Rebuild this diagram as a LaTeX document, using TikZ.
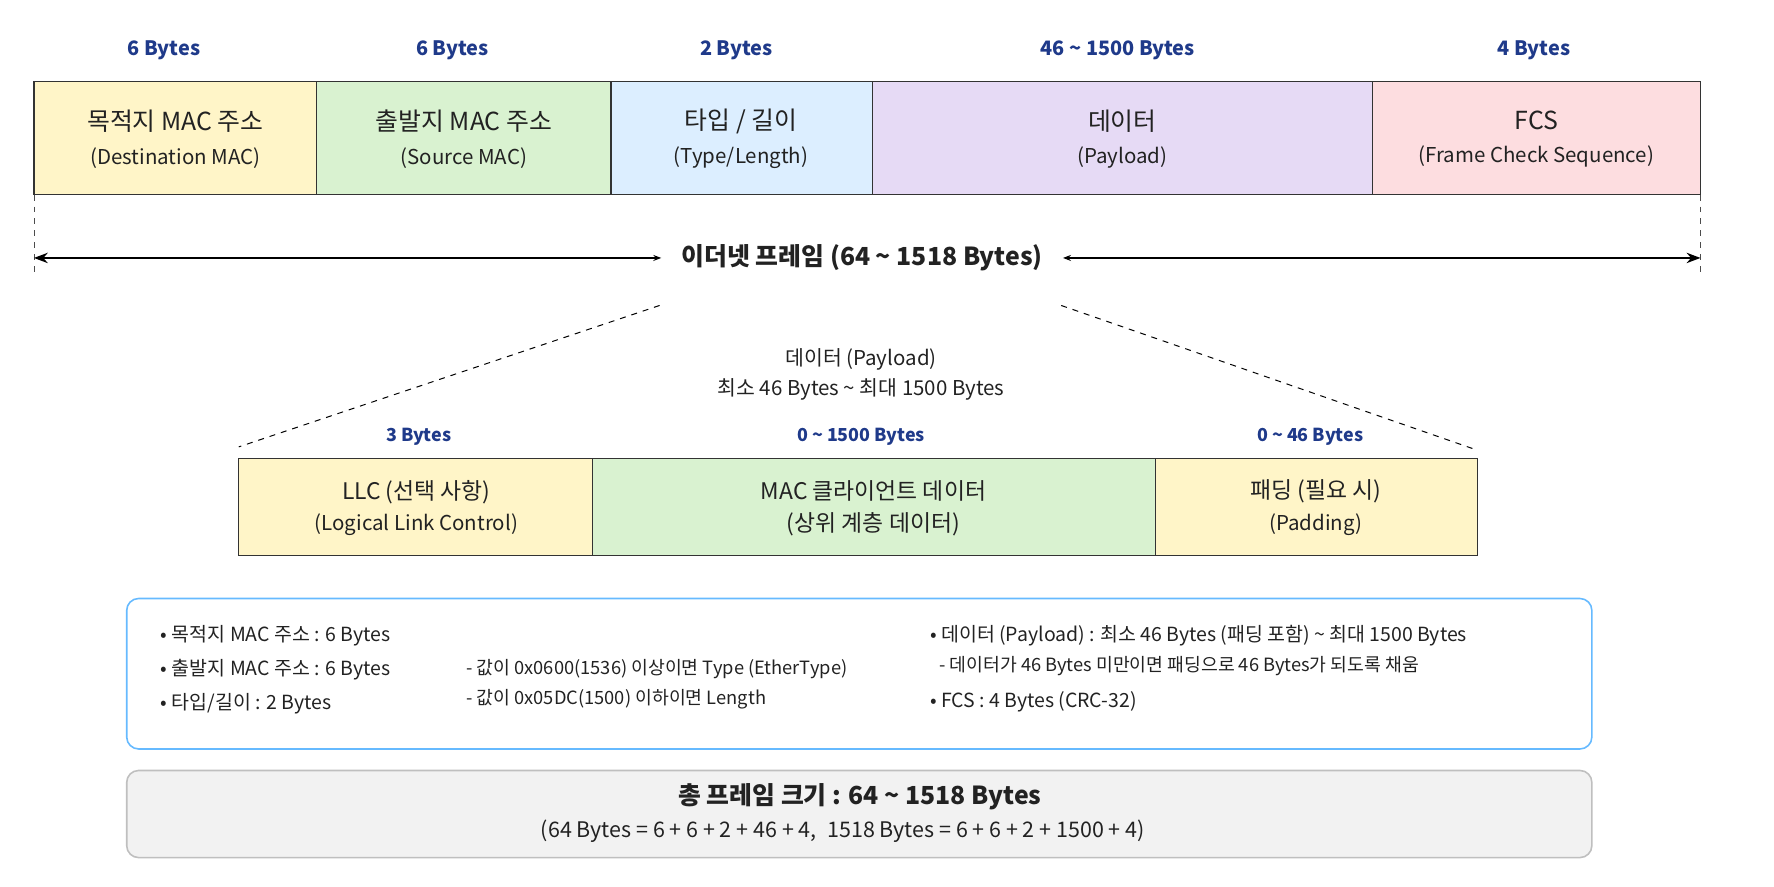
\documentclass[tikz,border=0pt]{standalone}
\usepackage{fontspec}
\setmainfont{Noto Sans CJK KR}
\usetikzlibrary{arrows.meta}
\definecolor{bl}{HTML}{1F3A8A}
\definecolor{tx}{HTML}{222222}
\definecolor{cy}{HTML}{FFF5C8}
\definecolor{cg}{HTML}{D9F2D0}
\definecolor{cb}{HTML}{DCEEFF}
\definecolor{cp}{HTML}{E6DAF5}
\definecolor{ck}{HTML}{FDDDE0}
\newcommand{\subfnt}{\fontsize{10.3}{12}\selectfont}
\begin{document}
\begin{tikzpicture}[x=0.02cm,y=-0.02cm,
  every node/.style={text=tx,font=\fontsize{10.3}{12}\selectfont},
  bytes/.style={text=bl,font=\fontsize{10}{12}\selectfont\bfseries},
  sbytes/.style={text=bl,font=\fontsize{9}{11}\selectfont\bfseries},
  fld/.style={draw=black!80,line width=0.6pt},
  ttl/.style={align=center,font=\fontsize{12.5}{20}\selectfont},
  inf/.style={anchor=west,font=\fontsize{9.8}{12}\selectfont},
  sinf/.style={anchor=west,font=\fontsize{9.2}{11}\selectfont}]
\useasboundingbox (0,0) rectangle (1568,784);
% top bytes
\node[bytes] (b1) at (145,44) {6 Bytes};
\node[bytes] (b2) at (400,44) {6 Bytes};
\node[bytes] (b3) at (651,44) {2 Bytes};
\node[bytes] (b4) at (988,44) {46 \textasciitilde{} 1500 Bytes};
\node[bytes] (b5) at (1356,44) {4 Bytes};
% top boxes
\fill[cy] (30,72) rectangle (280,172);
\fill[cg] (280,72) rectangle (540,172);
\fill[cb] (540,72) rectangle (771,172);
\fill[cp] (771,72) rectangle (1213,172);
\fill[ck] (1213,72) rectangle (1503,172);
\draw[fld] (30,72) rectangle (1503,172);
\foreach \x in {280,540,771,1213} \draw[fld] (\x,72)--(\x,172);
\node[ttl] (f1) at (155,123) {목적지 MAC 주소\\[-3pt]{\subfnt (Destination MAC)}};
\node[ttl] (f2) at (410,123) {출발지 MAC 주소\\[-3pt]{\subfnt (Source MAC)}};
\node[ttl] (f3) at (655,123) {타입 / 길이\\[-3pt]{\subfnt (Type/Length)}};
\node[ttl] (f4) at (992,123) {데이터\\[-3pt]{\subfnt (Payload)}};
\node[ttl] (f5) at (1358,123) {FCS\\[-3pt]{\subfnt (Frame Check Sequence)}};
% frame arrow
\coordinate (l0) at (30,172); \coordinate (l1) at (30,245);
\coordinate (r0) at (1503,172); \coordinate (r1) at (1503,245);
\draw[dashed,black!70] (l0)--(l1); \draw[dashed,black!70] (r0)--(r1);
\node[font=\fontsize{12.5}{14}\selectfont\bfseries,inner xsep=10pt] (fr) at (762,228) {이더넷 프레임 (64 \textasciitilde{} 1518 Bytes)};
\coordinate (al) at (30,228); \coordinate (ar) at (1503,228);
\draw[{Stealth[length=4pt,width=3pt]}-{Stealth[length=7pt]},line width=0.7pt] (fr.west)--(al);
\draw[{Stealth[length=4pt,width=3pt]}-{Stealth[length=7pt]},line width=0.7pt] (fr.east)--(ar);
% zoom lines
\coordinate (z1) at (583,270); \coordinate (z2) at (211,395);
\coordinate (z3) at (938,270); \coordinate (z4) at (1306,398);
\draw[dashed,line width=0.5pt] (z1)--(z2); \draw[dashed,line width=0.5pt] (z3)--(z4);
\node[align=center,font=\fontsize{10.3}{15}\selectfont] (pl) at (761,331) {데이터 (Payload)\\최소 46 Bytes \textasciitilde{} 최대 1500 Bytes};
\node[sbytes] (c1) at (370,386) {3 Bytes};
\node[sbytes] (c2) at (761,386) {0 \textasciitilde{} 1500 Bytes};
\node[sbytes] (c3) at (1158,386) {0 \textasciitilde{} 46 Bytes};
\fill[cy] (211,405) rectangle (524,491);
\fill[cg] (524,405) rectangle (1021,491);
\fill[cy] (1021,405) rectangle (1306,491);
\draw[fld] (211,405) rectangle (1306,491);
\foreach \x in {524,1021} \draw[fld] (\x,405)--(\x,491);
\node[ttl,font=\fontsize{11.5}{18}\selectfont] (g1) at (368,449) {LLC (선택 사항)\\[-2pt]{\subfnt (Logical Link Control)}};
\node[ttl,font=\fontsize{11.5}{18}\selectfont] (g2) at (772,449) {MAC 클라이언트 데이터\\[-2pt](상위 계층 데이터)};
\node[ttl,font=\fontsize{11.5}{18}\selectfont] (g3) at (1163,449) {패딩 (필요 시)\\[-2pt]{\subfnt (Padding)}};
% info box
\draw[draw=blue!45!cyan!60,line width=0.8pt,rounded corners=6pt] (112,529) rectangle (1407,662);
\node[inf] (i1) at (136,562) {• 목적지 MAC 주소 : 6 Bytes};
\node[inf] (i2) at (136,592) {• 출발지 MAC 주소 : 6 Bytes};
\node[inf] (i3) at (136,622) {• 타입/길이 : 2 Bytes};
\node[sinf] (i4) at (406,591) {- 값이 0x0600(1536) 이상이면 Type (EtherType)};
\node[sinf] (i5) at (406,618) {- 값이 0x05DC(1500) 이하이면 Length};
\node[inf] (i6) at (816,562) {• 데이터 (Payload) : 최소 46 Bytes (패딩 포함) \textasciitilde{} 최대 1500 Bytes};
\node[sinf] (i7) at (824,589) {- 데이터가 46 Bytes 미만이면 패딩으로 46 Bytes가 되도록 채움};
\node[inf] (i8) at (816,620) {• FCS : 4 Bytes (CRC-32)};
% total box
\draw[draw=black!25,fill=black!5,line width=0.8pt,rounded corners=6pt] (112,681) rectangle (1407,758);
\node[font=\fontsize{12.5}{14}\selectfont\bfseries] (t1) at (760,704) {총 프레임 크기 : 64 \textasciitilde{} 1518 Bytes};
\node[font=\fontsize{10.8}{13}\selectfont] (t2) at (745,735) {(64 Bytes = 6 + 6 + 2 + 46 + 4,\enspace 1518 Bytes = 6 + 6 + 2 + 1500 + 4)};
\end{tikzpicture}
\end{document}
